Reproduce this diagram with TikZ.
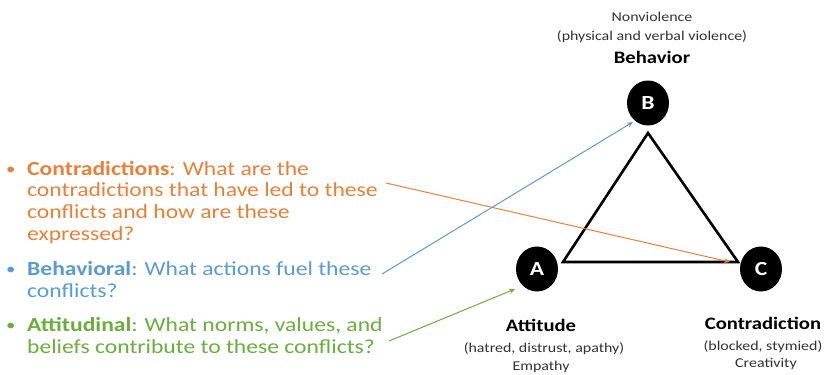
\documentclass[tikz,border=0pt]{standalone}
\usepackage{fontspec}
\setmainfont{Carlito}[FakeStretch=1.18]
\usetikzlibrary{arrows.meta,shapes.geometric}
\definecolor{corange}{HTML}{E8803A}
\definecolor{cblue}{HTML}{5B9BD5}
\definecolor{cgreen}{HTML}{6AAE3E}
\definecolor{cgray}{HTML}{333333}
\begin{document}
\begin{tikzpicture}[x=1pt,y=-1pt,
  bullettext/.style={anchor=base west,inner sep=0pt,align=left,font=\fontsize{20}{21.8}\selectfont},
  bulletdot/.style={anchor=base west,inner sep=0pt,font=\fontsize{16}{18}\selectfont},
  vertex/.style={ellipse,fill=black,minimum width=42pt,minimum height=45pt,inner sep=0pt,text=white,font=\fontsize{20}{22}\selectfont\bfseries},
  small/.style={inner sep=0pt,anchor=base,font=\fontsize{13.5}{15}\selectfont,text=cgray},
  title/.style={inner sep=0pt,anchor=base,font=\fontsize{17.5}{19}\selectfont\bfseries,text=black},
  pointer/.style={line width=1pt,-{Stealth[length=6pt,width=5pt]}}]
\useasboundingbox (0,0) rectangle (828,375);
\fill[white] (0,0) rectangle (828,375);
% vertices
\node[vertex] (B) at (648,103) {B};
\node[vertex] (A) at (537,269) {A};
\node[vertex] (C) at (761,269) {C};
\coordinate (tB) at (648,133);
\coordinate (tA) at (563,262);
\coordinate (tC) at (738,262);
\draw[line width=2.6pt,line join=miter] (tB) -- (tA) -- (tC) -- cycle;
% labels
\node[small] (nv) at (652,21) {Nonviolence};
\node[small] (pv) at (652,40) {(physical and verbal violence)};
\node[title] (bh) at (652,63) {Behavior};
\node[title] (at) at (541,331) {Attitude};
\node[small] (ha) at (544,352) {(hatred, distrust, apathy)};
\node[small] (em) at (541,370) {Empathy};
\node[title] (co) at (763,329) {Contradiction};
\node[small] (bl) at (763,350) {(blocked, stymied)};
\node[small] (cr) at (766,367) {Creativity};
% bullets
\node[bulletdot,text=corange] (d1) at (6,174) {\textbullet};
\node[bullettext,text=corange] (t1) at (27,240.4) {\textbf{Contradictions}: What are the\\contradictions that have led to these\\conflicts and how are these\\expressed?};
\node[bulletdot,text=cblue] (d2) at (6,274) {\textbullet};
\node[bullettext,text=cblue] (t2) at (27,297) {\textbf{Behavioral}: What actions fuel these\\conflicts?};
\node[bulletdot,text=cgreen] (d3) at (6,330) {\textbullet};
\node[bullettext,text=cgreen] (t3) at (27,353) {\textbf{Attitudinal}: What norms, values, and\\beliefs contribute to these conflicts?};
% pointers
\coordinate (s1) at (386,183);
\coordinate (e1) at (730,262);
\coordinate (s2) at (382,274);
\coordinate (e2) at (633,122);
\coordinate (s3) at (389,341);
\coordinate (e3) at (515,289);
\draw[pointer,corange] (s1) -- (e1);
\draw[pointer,cblue] (s2) -- (e2);
\draw[pointer,cgreen] (s3) -- (e3);
\end{tikzpicture}
\end{document}
